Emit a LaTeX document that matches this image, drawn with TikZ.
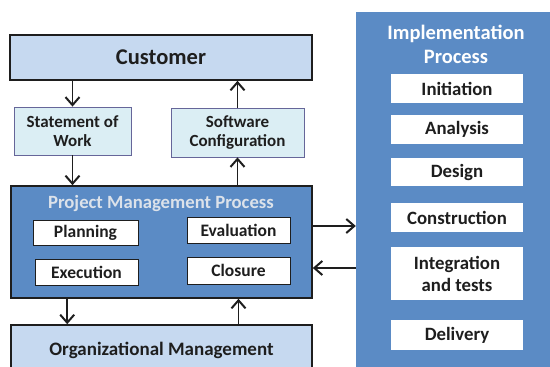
\documentclass[tikz,border=0pt]{standalone}
\usepackage{fontspec}
\setmainfont{Carlito}
\usetikzlibrary{arrows.meta,positioning,calc}
\definecolor{lightblue}{HTML}{C6D9F0}
\definecolor{paleblue}{HTML}{DBEEF4}
\definecolor{midblue}{HTML}{5B8BC5}
\definecolor{titlegray}{HTML}{DCE2EA}
\definecolor{edgedark}{HTML}{1E1E1E}
\begin{document}
\begin{tikzpicture}[x=1pt,y=-1pt,
  bigbox/.style={draw=edgedark,line width=1.6pt,fill=lightblue,inner sep=0pt},
  docbox/.style={draw=gray!80!blue,line width=0.8pt,fill=paleblue,inner sep=0pt,align=center,font=\fontsize{17}{19}\selectfont\bfseries,text=edgedark},
  procbox/.style={draw=edgedark,line width=1.6pt,fill=midblue,inner sep=0pt},
  taskbox/.style={draw=edgedark,line width=0.8pt,fill=white,inner sep=0pt,font=\fontsize{17.5}{19}\selectfont\bfseries,text=edgedark},
  stagebox/.style={draw=none,fill=white,inner sep=0pt,align=center,font=\fontsize{18.8}{22}\selectfont\bfseries,text=edgedark},
  flow/.style={line width=1.9pt,draw=edgedark,-{Straight Barb[length=8pt,width=14pt,line width=2pt]}}
]
\useasboundingbox (0,0) rectangle (550,367);
\clip (0,0) rectangle (550,367);
% customer
\node[bigbox,minimum width=302pt,minimum height=45pt,font=\fontsize{22.5}{26}\selectfont\bfseries,text=edgedark] (cust) at (161,57.5) {Customer};
% documents
\node[docbox,minimum width=117pt,minimum height=48pt] (sow) at (72.5,131) {Statement of\\Work};
\node[docbox,minimum width=133pt,minimum height=49pt] (swc) at (237.5,132.5) {Software\\Configuration};
% project management process
\node[procbox,minimum width=301pt,minimum height=112pt] (pmp) at (161.5,242) {};
\node[font=\fontsize{18.7}{21}\selectfont\bfseries,text=titlegray,inner sep=0pt] (pmpt) at (161,204) {Project Management Process};
\node[taskbox,minimum width=105pt,minimum height=25pt] (plan) at (85.5,232.5) {Planning};
\node[taskbox,minimum width=103pt,minimum height=26pt] (eval) at (238.5,230) {Evaluation};
\node[taskbox,minimum width=103pt,minimum height=26pt] (exec) at (86.5,272) {Execution};
\node[taskbox,minimum width=103pt,minimum height=27pt] (clos) at (238.5,270.5) {Closure};
% organizational management
\node[bigbox,minimum width=301pt,minimum height=60pt] (org) at (161.5,355) {};
\node[font=\fontsize{19}{21}\selectfont\bfseries,text=edgedark,inner sep=0pt] (orgt) at (161.5,350) {Organizational Management};
% implementation process
\node[fill=midblue,draw=none,minimum width=196pt,minimum height=365pt,inner sep=0pt] (impl) at (454,194.5) {};
\node[font=\fontsize{20.5}{24}\selectfont\bfseries,text=white,align=center,inner sep=0pt] (implt) at (456,44) {Implementation\\Process};
\node[stagebox,minimum width=132pt,minimum height=29pt] (init) at (457,88.5) {Initiation};
\node[stagebox,minimum width=132pt,minimum height=29pt] (anal) at (457,129.5) {Analysis};
\node[stagebox,minimum width=132pt,minimum height=28pt] (des) at (457,172) {Design};
\node[stagebox,minimum width=132pt,minimum height=29pt] (cons) at (457,217.5) {Construction};
\node[stagebox,minimum width=132pt,minimum height=53pt] (integ) at (457,273.5) {Integration\\and tests};
\node[stagebox,minimum width=132pt,minimum height=30pt] (deliv) at (457,335) {Delivery};
% connectors
\draw[flow] (sow.north |- cust.south) -- (sow.north);
\draw[flow] (sow.south) -- (sow.south |- pmp.north);
\draw[flow] (swc.north) -- (swc.north |- cust.south);
\draw[flow] (swc.south |- pmp.north) -- (swc.south);
\draw[flow] ([xshift=57pt]pmp.south west) -- ([xshift=57pt]org.north west);
\draw[flow] (org.north -| clos.south) -- (clos.south |- pmp.south);
\draw[flow] ([yshift=16pt]pmp.east) -- ([yshift=16pt]pmp.east -| impl.west);
\draw[flow] ([yshift=-26pt]pmp.east -| impl.west) -- ([yshift=-26pt]pmp.east);
\end{tikzpicture}
\end{document}
